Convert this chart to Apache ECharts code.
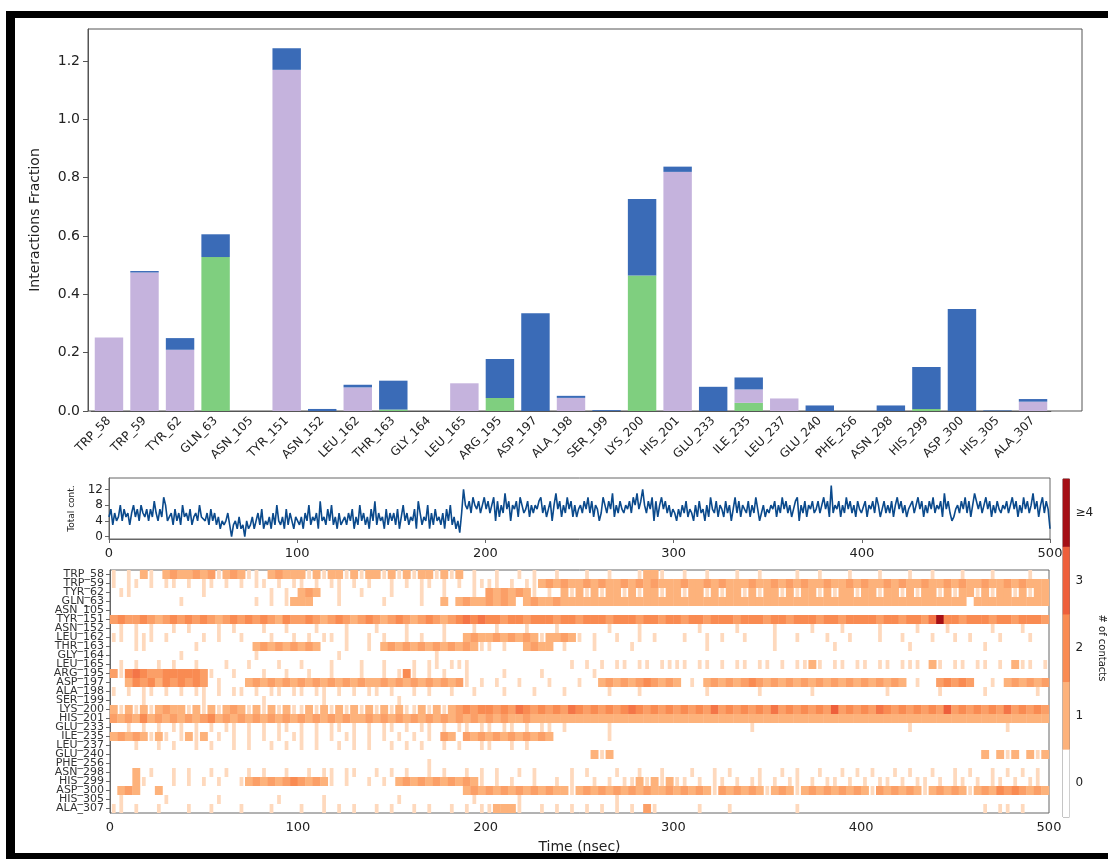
<!DOCTYPE html>
<html><head><meta charset="utf-8">
<script src="https://cdn.jsdelivr.net/npm/echarts/dist/echarts.min.js"></script>
<style>html,body{margin:0;padding:0;background:#fff}#chart{width:1108px;height:862px}</style>
</head><body><div id="chart"></div>
<script>
// ---------------- DATA ----------------
const residues = ['TRP_58','TRP_59','TYR_62','GLN_63','ASN_105','TYR_151','ASN_152','LEU_162','THR_163','GLY_164','LEU_165','ARG_195','ASP_197','ALA_198','SER_199','LYS_200','HIS_201','GLU_233','ILE_235','LEU_237','GLU_240','PHE_256','ASN_298','HIS_299','ASP_300','HIS_305','ALA_307'];
const hbond       = [0,0,0,0.528,0,0,0,0,0.005,0,0,0.045,0,0,0,0.465,0,0,0.028,0,0,0,0,0.007,0,0,0];
const hydrophobic = [0.252,0.475,0.21,0,0,1.17,0,0.081,0,0,0.095,0,0,0.045,0,0,0.82,0,0.046,0.043,0,0,0,0,0,0,0.032];
const waterBridge = [0,0.005,0.04,0.078,0,0.074,0.007,0.009,0.099,0,0,0.133,0.335,0.007,0.003,0.262,0.018,0.083,0.041,0,0.019,0,0.019,0.144,0.35,0.002,0.009];
const barTicks = [0,0.2,0.4,0.6,0.8,1.0,1.2];
const timeTicks = [0,100,200,300,400,500];
const contTicks = [0,4,8,12];
const colorbarLabels = ['0','1','2','3','\u22654'];
// total contacts, one hex digit per ns (0..499)
const totalContacts = [
 '5736458475636857486574759','6475a84563746385647356485','5463746352434630342523042','3524637243526384352736425',
 '4352648354629453748352634','5364725384635274936452736','4637258463547296354826374','5362748352416c8796a87968a',
 '7968a49586b7948795a867958','6879a6857948b79586a795857','8697a6958746a8697b5869768','796a8b79c8697a4958a796857',
 '6475869576485967485a76958','7596847a6958769586a746857','6879586a7968579a486958796','7968a795d6879586a79685976',
 '6958796a8579686958a796857','7968a7958697a68795b796457','8697a6958b97968a795869768','7968a79586a7968b7958a6972'
].join('').split('').map(c => parseInt(c, 16));
// contacts per residue, 4-ns bins, digit = 2 x mean contacts
const contactRows = [
 ['1010210232232312321102322','2121221212212121221212010','0100101001000100100012210','0100100010010000100100010','0010001001000100010000100'],
 ['1011010110101101010110101','1010110101001010110101011','1101011232322323223232322','2322323222322323232232232','3223232232232322322323222'],
 ['0110000000001000000001010','2320010010001000100100010','3232321010212121221212212','2122121221212212122121221','2212212122121221212212122'],
 ['0000000001000000000101012','2200010000010000100202322','3232023223222222222222222','2222222222222222222222222','2222222222222202222222222'],
 ['0000000000000000000000000','0000000000000000000000000','0000000000000000000000000','0000000000000000000000000','0000000000000000000000000'],
 ['3433432343434323434343243','3432343234323432343234545','4434434443443444344434434','4344344434443443444344344','4434434435844344434434443'],
 ['0101010010100010100010010','0010001000100010000100010','0100010001000000100010000','0001000010000100001000100','0010000100010000010001000'],
 ['1101110100001010010001001','0101101001010010100100232','2323232122321010010010100','0100101001000100100010010','0010010001001010001000100'],
 ['0001100000010000000232323','2320001001023232323232321','1010023220100010000100000','0000100000000100000001000','0000001000000000100000000'],
 ['0000000001000000000100000','0000010000000000001000000','0000000000000000000000000','0000000000000000000000000','0000000000000000000000000'],
 ['0101001010010001001000100','1000100010010001011011100','0000000000010101011011011','1101101011011010112101101','1011011102101101101021101'],
 ['3145433444443100100010010','0100100010010141010100100','0010000100000010000000000','0000000000000000000000000','0000000000000000000000000'],
 ['0024342434343010002323232','3232323232232323232323101','0100100010001002323234323','2010232323432323232323232','3232320100343430010232323'],
 ['1010110101011010110101101','1011010101101001010010010','0010001000100000100010000','0000100000010000001000000','0001000000100000100000010'],
 ['0000100000001000000010000','0001000000000100000000000','0000000000000000000000000','0000000000000000000000000','0000000000000000000000000'],
 ['2121212322121212321212121','1212121212121211212123434','4343543434354343434543434','3434353434343534343436343','4354343434363434343534343'],
 ['3232423232323423232323232','3232323223232323232323232','3232232222222222222222222','2222222222222222222222222','2222222222222222222222222'],
 ['0010101011010101101010110','1010110101011010110101101','1011010110100000100000000','0000000000100000000000000','0000001000000000000100000'],
 ['2323212101212010101010101','1010101101010101010320323','2323232320000000100000000','0000000000000000000000000','0000000000000000000000000'],
 ['0001001010010100101001010','1010010101001010100101001','1001010000000000000000000','0000000000000000000000000','0000000000000000000000000'],
 ['0000000000000000000000000','0000000000000000000000000','0000000000000021200000000','0000000000000000000000000','0000000000000000202120212'],
 ['0000000000000000000000000','0000000000000000010000000','0000000000000000000000000','0000000000000000000000000','0000000000000000000000000'],
 ['0002010010100101001010010','0101101100101010010100101','0100101000010100010010010','0010010100010010100100101','0100101001001010010101010'],
 ['0002100010101010012323234','3232101001010232323232321','0101001001010010101121212','1101011010110101101011010','1011010110101101011010110'],
 ['0232002000000000000000000','0000000000000000000000232','3232323232212323232323223','2323213232321232123232323','2132323212323212324343232'],
 ['0100000100000010000000100','0001000000000100000000010','0000100000000000010000000','0000000000000000000000000','0000000000000000000000000'],
 ['1101001000100100010001000','1001010100101001010010101','1222100101010101010103100','0001000100000000100000000','0000000000000000101101000']
];
const binCount = 125;

// ---------------- BUILD ----------------
const FONT = 'DejaVu Sans';
const TXT = '#222';
const heatData = [];
contactRows.forEach((chunks, r) => {
  const s = chunks.join('');
  for (let b = 0; b < binCount; b++) {
    const v = parseInt(s[b] || '0', 10) / 2;
    if (v > 0) heatData.push([b, r, v]);
  }
});
const bins = Array.from({length: binCount}, (_, i) => String(i));
const lineData = totalContacts.map((v, i) => [i * 500 / (totalContacts.length - 1), v]);

const chart = echarts.init(document.getElementById('chart'), null, {renderer: 'canvas'});
chart.setOption({
  animation: false,
  backgroundColor: '#fff',
  textStyle: {fontFamily: FONT},
  grid: [
    {left: 91.2, top: 29, width: 959.6, height: 382, show: false},
    {left: 109, top: 478, width: 941, height: 61, show: true, borderColor: '#666', borderWidth: 1, backgroundColor: 'transparent'},
    {left: 110, top: 570, width: 939, height: 243, show: true, borderColor: '#666', borderWidth: 1, backgroundColor: 'transparent'},
    {left: 1063, top: 479, width: 14, height: 338, show: true, borderColor: '#666', borderWidth: 1, backgroundColor: 'transparent'},
    {left: 88, top: 29, width: 994, height: 382, show: true, borderColor: '#555', borderWidth: 1, backgroundColor: 'transparent'}
  ],
  xAxis: [
    {gridIndex: 0, type: 'category', data: residues,
     axisLine: {lineStyle: {color: '#555'}},
     axisTick: {alignWithLabel: true, interval: 0, length: 5, lineStyle: {color: '#555'}},
     axisLabel: {interval: 0, rotate: 45, fontSize: 12, color: TXT, margin: 8, fontFamily: FONT},
     splitLine: {show: false}},
    {gridIndex: 1, type: 'value', min: 0, max: 500, interval: 100,
     axisLine: {onZero: false, lineStyle: {color: '#666'}},
     axisTick: {length: 4, lineStyle: {color: '#666'}},
     axisLabel: {fontSize: 13, color: TXT, margin: 8, fontFamily: FONT},
     splitLine: {show: false}},
    {gridIndex: 2, type: 'category', data: bins, show: false},
    {gridIndex: 2, type: 'value', min: 0, max: 500, interval: 100, position: 'bottom',
     axisLine: {onZero: false, lineStyle: {color: '#666'}},
     axisTick: {length: 4, lineStyle: {color: '#666'}},
     axisLabel: {fontSize: 13, color: TXT, margin: 8, fontFamily: FONT},
     splitLine: {show: false},
     name: 'Time (nsec)', nameLocation: 'middle', nameGap: 27,
     nameTextStyle: {fontSize: 14, color: TXT, fontFamily: FONT}},
    {gridIndex: 3, type: 'category', data: ['c'], show: false},
    {gridIndex: 4, type: 'value', show: false, min: 0, max: 1}
  ],
  yAxis: [
    {gridIndex: 0, type: 'value', min: 0, max: 1.31, offset: 3.2,
     axisLine: {show: true, onZero: false, lineStyle: {color: '#555'}},
     axisTick: {show: true, customValues: barTicks, length: 5, lineStyle: {color: '#555'}},
     axisLabel: {customValues: barTicks, formatter: v => v.toFixed(1), fontSize: 14, color: TXT, margin: 8, fontFamily: FONT},
     splitLine: {show: false},
     name: 'Interactions Fraction', nameLocation: 'middle', nameGap: 46,
     nameTextStyle: {fontSize: 14, color: TXT, fontFamily: FONT}},
    {gridIndex: 1, type: 'value', min: -0.6, max: 14.9,
     axisLine: {show: true, onZero: false, lineStyle: {color: '#666'}},
     axisTick: {show: true, customValues: contTicks, length: 4, lineStyle: {color: '#666'}},
     axisLabel: {customValues: contTicks, fontSize: 12, color: TXT, margin: 6, fontFamily: FONT},
     splitLine: {show: false},
     name: 'Total cont.', nameLocation: 'middle', nameGap: 33,
     nameTextStyle: {fontSize: 9, color: TXT, fontFamily: FONT}},
    {gridIndex: 2, type: 'category', data: residues, inverse: true,
     axisLine: {show: true, lineStyle: {color: '#666'}},
     axisTick: {show: true, alignWithLabel: true, length: 4, lineStyle: {color: '#666'}},
     axisLabel: {interval: 0, fontSize: 11, color: '#333', margin: 6, fontFamily: FONT},
     splitLine: {show: false}},
    {gridIndex: 3, type: 'category', data: colorbarLabels, position: 'right',
     axisLine: {show: false},
     axisTick: {show: false},
     axisLabel: {interval: 0, fontSize: 12, color: TXT, margin: 6, fontFamily: FONT},
     splitLine: {show: false},
     name: '# of contacts', nameLocation: 'middle', nameGap: 16, nameRotate: -90,
     nameTextStyle: {fontSize: 10, color: TXT, fontFamily: FONT}},
    {gridIndex: 4, type: 'value', show: false, min: 0, max: 1}
  ],
  visualMap: [
    {type: 'continuous', show: false, seriesIndex: 4, min: 0, max: 4, dimension: 2,
     inRange: {color: ['#ffffff', '#fdb27b', '#f98b52', '#ee5f3b', '#a50f15']}},
    {type: 'piecewise', show: false, seriesIndex: 5, dimension: 2,
     pieces: [{value: 0, color: '#ffffff'}, {value: 1, color: '#fdb27b'}, {value: 2, color: '#f98b52'}, {value: 3, color: '#ee5f3b'}, {value: 4, color: '#a50f15'}]}
  ],
  series: [
    {type: 'bar', xAxisIndex: 0, yAxisIndex: 0, stack: 'f', barWidth: '80%', itemStyle: {color: '#7fcf7f'}, data: hbond},
    {type: 'bar', xAxisIndex: 0, yAxisIndex: 0, stack: 'f', barWidth: '80%', itemStyle: {color: '#c5b3dd'}, data: hydrophobic},
    {type: 'bar', xAxisIndex: 0, yAxisIndex: 0, stack: 'f', barWidth: '80%', itemStyle: {color: '#3a6bb7'}, data: waterBridge},
    {type: 'line', xAxisIndex: 1, yAxisIndex: 1, data: lineData, showSymbol: false, symbol: 'none',
     lineStyle: {color: '#0b4a8c', width: 1.6}, sampling: null},
    {type: 'custom', xAxisIndex: 2, yAxisIndex: 2, data: heatData, progressive: 0,
     encode: {x: 0, y: 1},
     renderItem: (params, api) => {
       const v = api.value(2);
       const c = api.coord([api.value(0), api.value(1)]);
       const s = api.size([1, 1]);
       const w = v < 1 ? s[0] * 0.5 : s[0] + 0.4;
       return {type: 'rect', shape: {x: c[0] - w / 2, y: c[1] - s[1] / 2, width: w, height: s[1]},
               style: {fill: api.visual('color')}};
     }},
    {type: 'heatmap', xAxisIndex: 4, yAxisIndex: 3, progressive: 0,
     data: colorbarLabels.map((_, i) => [0, i, i]), itemStyle: {borderWidth: 0}}
  ],
  graphic: [
    {type: 'rect', z: 100, shape: {x: 6, y: 11, width: 1102, height: 7}, style: {fill: '#000'}},
    {type: 'rect', z: 100, shape: {x: 6, y: 11, width: 9, height: 848}, style: {fill: '#000'}},
    {type: 'rect', z: 100, shape: {x: 6, y: 853, width: 1102, height: 6}, style: {fill: '#000'}}
  ]
});
</script></body></html>
